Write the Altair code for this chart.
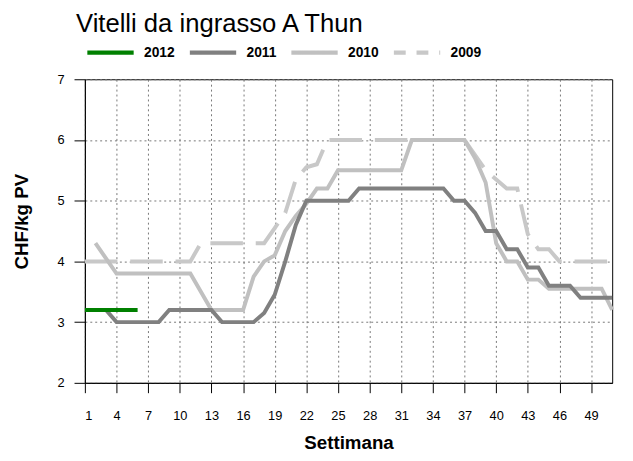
import altair as alt
import pandas as pd

years = ["2012", "2011", "2010", "2009"]
colors = ["#008000", "#808080", "#c0c0c0", "#c8c8c8"]

weeks_2012 = [1, 2, 3, 4, 5, 6]
vals_2012 = [3.2, 3.2, 3.2, 3.2, 3.2, 3.2]

weeks_2011 = list(range(1, 52))
vals_2011 = [3.2, 3.2, 3.2, 3.0, 3.0, 3.0, 3.0, 3.0, 3.2, 3.2,
             3.2, 3.2, 3.2, 3.0, 3.0, 3.0, 3.0, 3.15, 3.45, 4.0,
             4.6, 5.0, 5.0, 5.0, 5.0, 5.0, 5.2, 5.2, 5.2, 5.2,
             5.2, 5.2, 5.2, 5.2, 5.2, 5.0, 5.0, 4.8, 4.5, 4.5,
             4.2, 4.2, 3.9, 3.9, 3.6, 3.6, 3.6, 3.4, 3.4, 3.4,
             3.4]

weeks_2010 = list(range(2, 52))
vals_2010 = [4.3, 4.05, 3.8, 3.8, 3.8, 3.8, 3.8, 3.8, 3.8, 3.8,
             3.5, 3.2, 3.2, 3.2, 3.2, 3.75, 4.0, 4.1, 4.5, 4.75,
             4.95, 5.2, 5.2, 5.5, 5.5, 5.5, 5.5, 5.5, 5.5, 5.5,
             6.0, 6.0, 6.0, 6.0, 6.0, 6.0, 5.7, 5.3, 4.3, 4.0,
             4.0, 3.7, 3.7, 3.55, 3.55, 3.55, 3.55, 3.55, 3.55, 3.2]

weeks_2009 = list(range(1, 52))
vals_2009 = [4.0, 4.0, 4.0, 4.0, 4.0, 4.0, 4.0, 4.0, 4.0, 4.0,
             4.0, 4.3, 4.3, 4.3, 4.3, 4.3, 4.3, 4.3, 4.55, 4.8,
             5.35, 5.55, 5.6, 6.0, 6.0, 6.0, 6.0, 6.0, 6.0, 6.0,
             6.0, 6.0, 6.0, 6.0, 6.0, 6.0, 6.0, 5.75, 5.5, 5.35,
             5.2, 5.2, 4.45, 4.2, 4.2, 4.0, 4.0, 4.0, 4.0, 4.0,
             4.0]

x_ticks = [1, 4, 7, 10, 13, 16, 19, 22, 25, 28, 31, 34, 37, 40, 43, 46, 49]
y_ticks = [2, 3, 4, 5, 6, 7]

rows = []
for yr, wk, vals in [("2009", weeks_2009, vals_2009), ("2010", weeks_2010, vals_2010),
                     ("2011", weeks_2011, vals_2011), ("2012", weeks_2012, vals_2012)]:
    for w, v in zip(wk, vals):
        rows.append({"year": yr, "week": w, "value": v})
df = pd.DataFrame(rows)

FONT = "Liberation Sans, Arial, sans-serif"

x_enc = alt.X("week:Q", scale=alt.Scale(domain=[1, 51], nice=False, zero=False),
              axis=alt.Axis(values=x_ticks, title="Settimana", tickSize=10, labelPadding=17,
                            titleY=52, titleBaseline="top"))
y_enc = alt.Y("value:Q", scale=alt.Scale(domain=[2, 7], nice=False, zero=False),
              axis=alt.Axis(values=y_ticks, title="CHF/kg PV", tickSize=11, labelPadding=10,
                            titleX=-54, titleY=144))
color_scale = alt.Scale(domain=years, range=colors)

base = alt.Chart(df)


def year_line(yr, col, dash=None):
    kw = dict(strokeWidth=4, color=col)
    if dash is not None:
        kw["strokeDash"] = dash
    return base.transform_filter(f"datum.year == '{yr}'").mark_line(**kw).encode(
        x=x_enc, y=y_enc, order="week:Q")


leg_kwargs = dict(
    orient="top", offset=18, direction="horizontal", columns=4,
    symbolType="stroke", symbolSize=2209, symbolStrokeWidth=4.5, symbolOpacity=1,
    labelFont=FONT, labelFontSize=14, labelFontWeight="bold", labelColor="black",
    labelOffset=8, columnPadding=5, title=None,
)
legend_layer = base.mark_line(opacity=0, strokeWidth=4).encode(
    x=x_enc, y=y_enc,
    color=alt.Color("year:N", scale=color_scale, legend=alt.Legend(**leg_kwargs)),
    strokeDash=alt.StrokeDash("year:N",
                              scale=alt.Scale(domain=years, range=[[1, 0], [1, 0], [1, 0], [12, 11]]),
                              legend=alt.Legend(**leg_kwargs)),
    order="week:Q",
)

chart = alt.layer(
    legend_layer,
    year_line("2009", colors[3], [33, 13]),
    year_line("2010", colors[2]),
    year_line("2011", colors[1]),
    year_line("2012", colors[0]),
).properties(
    width=535, height=308,
    title=alt.TitleParams("Vitelli da ingrasso A Thun", anchor="start", frame="group", font=FONT,
                          fontSize=26, fontWeight="normal", color="black", dx=-9, offset=-10),
    padding={"left": 5, "top": 0, "right": 5, "bottom": 5},
).configure_view(stroke="black", strokeWidth=1).configure_axis(
    domainColor="black", tickColor="black", gridColor="#777777", gridDash=[2, 3],
    gridOpacity=1, labelFont=FONT, labelFontSize=13, labelColor="black",
    titleFont=FONT, titleFontSize=19, titleFontWeight="bold", titleColor="black",
)

chart.save("out.html", embed_options={"renderer": "svg", "actions": False})
